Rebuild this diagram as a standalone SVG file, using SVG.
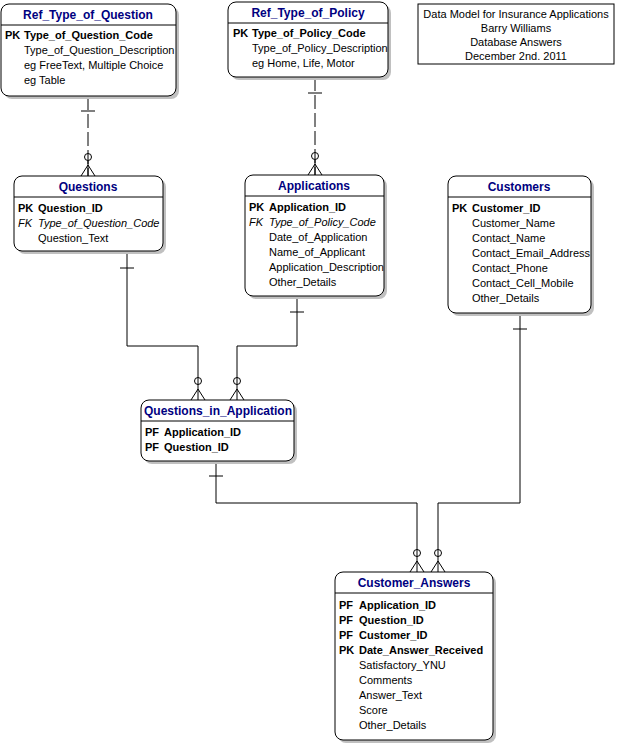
<svg xmlns="http://www.w3.org/2000/svg" width="621" height="745" viewBox="0 0 621 745">
<style>
text{font-family:"Liberation Sans",Arial,sans-serif;font-size:11px;fill:#000}
.t{font-weight:bold;font-size:12px;fill:#000080;text-anchor:middle}
.b{font-weight:bold}
.i{font-style:italic}
.box{fill:#fff;stroke:#000;stroke-width:1}
.sh{fill:#c0c0c0}
.ln{fill:none;stroke:#000;stroke-width:1}
.d{stroke-dasharray:14,4}
</style>
<rect width="621" height="745" fill="#fff"/>
<g id="connectors">
<path class="ln d" d="M88,96V176"/><path class="ln" d="M81,111H95"/>
<path class="ln d" d="M315,77V175"/><path class="ln" d="M308,93H322"/>
<path class="ln" d="M127,251V346H198V400M120,268H134"/>
<path class="ln" d="M297,296V346H237V400M290,312H304"/>
<path class="ln" d="M216,461V503H417V572M209,476H223"/>
<path class="ln" d="M520,313V503H438V572M513,329H527"/>
<g class="ln">
<circle cx="88" cy="157" r="3.5"/><path d="M88,165L81,176M88,165L95,176M88,161V176"/>
<circle cx="315" cy="156" r="3.5"/><path d="M315,164L308,175M315,164L322,175M315,160V175"/>
<circle cx="198" cy="381" r="3.5"/><path d="M198,389L191,400M198,389L205,400"/>
<circle cx="237" cy="381" r="3.5"/><path d="M237,389L230,400M237,389L244,400"/>
<circle cx="417" cy="553" r="3.5"/><path d="M417,561L410,572M417,561L424,572"/>
<circle cx="438" cy="553" r="3.5"/><path d="M438,561L431,572M438,561L445,572"/>
</g>
</g>
<g id="legend">
<rect x="418" y="4" width="196" height="60" fill="#fff" stroke="#000"/>
<text x="516" y="18" text-anchor="middle">Data Model for Insurance Applications</text>
<text x="516" y="32" text-anchor="middle">Barry Williams</text>
<text x="516" y="46" text-anchor="middle">Database Answers</text>
<text x="516" y="60" text-anchor="middle">December 2nd. 2011</text>
</g>
<g id="Ref_Type_of_Question">
<rect class="sh" x="4" y="7" width="175" height="92" rx="8"/>
<rect class="box" x="1" y="4" width="175" height="92" rx="8"/>
<path class="ln" d="M1,25H176"/>
<text class="t" x="88" y="19">Ref_Type_of_Question</text>
<text class="b" x="5" y="39">PK</text><text class="b" x="24" y="39">Type_of_Question_Code</text>
<text x="24" y="54">Type_of_Question_Description</text>
<text x="24" y="69">eg FreeText, Multiple Choice</text>
<text x="24" y="84">eg Table</text>
</g>
<g id="Ref_Type_of_Policy">
<rect class="sh" x="231" y="5" width="160" height="75" rx="8"/>
<rect class="box" x="228" y="2" width="160" height="75" rx="8"/>
<path class="ln" d="M228,23H388"/>
<text class="t" x="308" y="17">Ref_Type_of_Policy</text>
<text class="b" x="233" y="37">PK</text><text class="b" x="252" y="37">Type_of_Policy_Code</text>
<text x="252" y="52">Type_of_Policy_Description</text>
<text x="252" y="67">eg Home, Life, Motor</text>
</g>
<g id="Questions">
<rect class="sh" x="17" y="179" width="149" height="75" rx="8"/>
<rect class="box" x="14" y="176" width="149" height="75" rx="8"/>
<path class="ln" d="M14,197H163"/>
<text class="t" x="88" y="191">Questions</text>
<text class="b" x="18" y="212">PK</text><text class="b" x="38" y="212">Question_ID</text>
<text class="i" x="18" y="227">FK</text><text class="i" x="38" y="227">Type_of_Question_Code</text>
<text x="38" y="242">Question_Text</text>
</g>
<g id="Applications">
<rect class="sh" x="248" y="178" width="139" height="121" rx="8"/>
<rect class="box" x="245" y="175" width="139" height="121" rx="8"/>
<path class="ln" d="M245,196H384"/>
<text class="t" x="314" y="190">Applications</text>
<text class="b" x="249" y="211">PK</text><text class="b" x="269" y="211">Application_ID</text>
<text class="i" x="249" y="226">FK</text><text class="i" x="269" y="226">Type_of_Policy_Code</text>
<text x="269" y="241">Date_of_Application</text>
<text x="269" y="256">Name_of_Applicant</text>
<text x="269" y="271">Application_Description</text>
<text x="269" y="286">Other_Details</text>
</g>
<g id="Customers">
<rect class="sh" x="451" y="179" width="143" height="137" rx="8"/>
<rect class="box" x="448" y="176" width="143" height="137" rx="8"/>
<path class="ln" d="M448,197H591"/>
<text class="t" x="519" y="191">Customers</text>
<text class="b" x="452" y="212">PK</text><text class="b" x="472" y="212">Customer_ID</text>
<text x="472" y="227">Customer_Name</text>
<text x="472" y="242">Contact_Name</text>
<text x="472" y="257">Contact_Email_Address</text>
<text x="472" y="272">Contact_Phone</text>
<text x="472" y="287">Contact_Cell_Mobile</text>
<text x="472" y="302">Other_Details</text>
</g>
<g id="Questions_in_Application">
<rect class="sh" x="144" y="403" width="153" height="61" rx="8"/>
<rect class="box" x="141" y="400" width="153" height="61" rx="8"/>
<path class="ln" d="M141,421H294"/>
<text class="t" x="218" y="415">Questions_in_Application</text>
<text class="b" x="145" y="436">PF</text><text class="b" x="164" y="436">Application_ID</text>
<text class="b" x="145" y="451">PF</text><text class="b" x="164" y="451">Question_ID</text>
</g>
<g id="Customer_Answers">
<rect class="sh" x="338" y="575" width="158" height="168" rx="8"/>
<rect class="box" x="335" y="572" width="158" height="168" rx="8"/>
<path class="ln" d="M335,593H493"/>
<text class="t" x="414" y="587">Customer_Answers</text>
<text class="b" x="339" y="609">PF</text><text class="b" x="359" y="609">Application_ID</text>
<text class="b" x="339" y="624">PF</text><text class="b" x="359" y="624">Question_ID</text>
<text class="b" x="339" y="639">PF</text><text class="b" x="359" y="639">Customer_ID</text>
<text class="b" x="339" y="654">PK</text><text class="b" x="359" y="654">Date_Answer_Received</text>
<text x="359" y="669">Satisfactory_YNU</text>
<text x="359" y="684">Comments</text>
<text x="359" y="699">Answer_Text</text>
<text x="359" y="714">Score</text>
<text x="359" y="729">Other_Details</text>
</g>
</svg>
